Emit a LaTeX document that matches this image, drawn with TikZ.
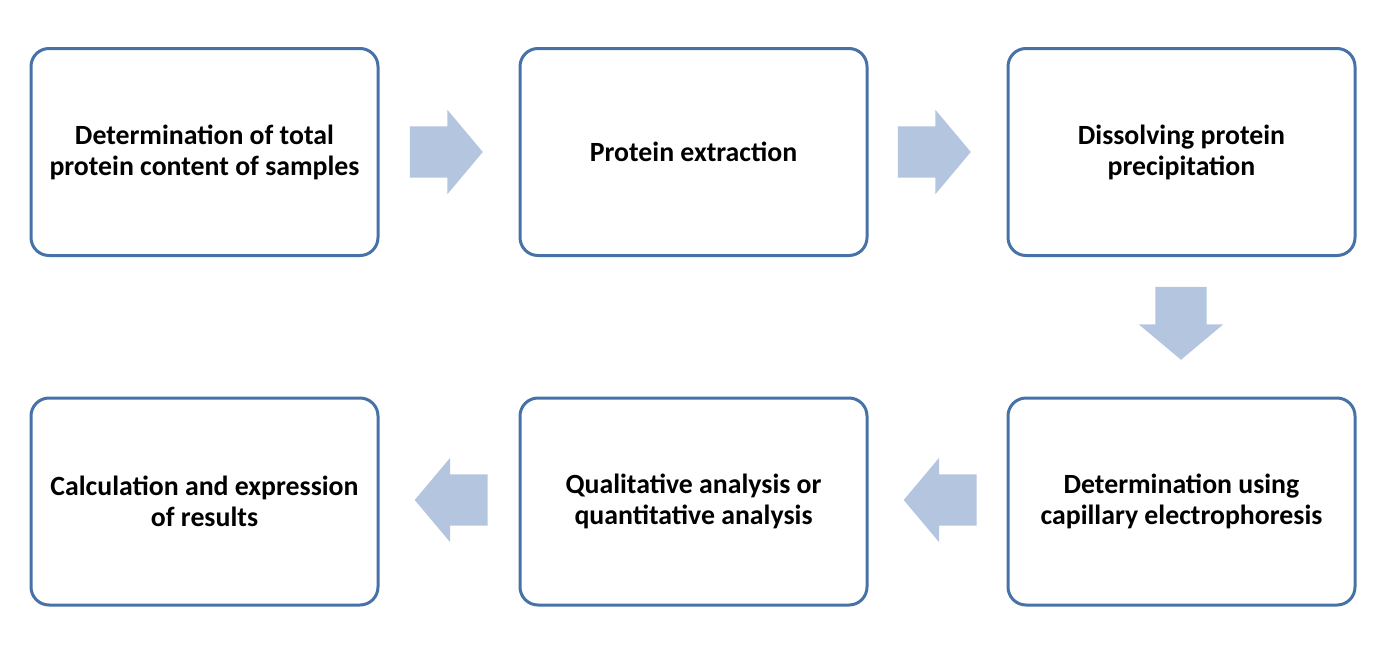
\documentclass[tikz,border=0pt]{standalone}
\usepackage{fontspec}
\setmainfont{Carlito}
\usepackage{tikz}
\usetikzlibrary{shapes.arrows}
\definecolor{boxblue}{RGB}{71,114,167}
\definecolor{arrowblue}{RGB}{180,197,224}
\tikzset{
  stepbox/.style={ draw=boxblue, line width=3pt, rounded corners=18pt, fill=white,
    minimum width=347pt, minimum height=207pt, align=center,
    font=\fontsize{27.8}{31}\selectfont\bfseries }
}
\tikzset{
  blockarr/.style={ single arrow, fill=arrowblue, draw=none, inner xsep=0pt, inner ysep=25.5pt,
    minimum height=73pt, single arrow head extend=16.5pt,
    single arrow tip angle=100 }
}
\begin{document}
\begin{tikzpicture}[y=-1pt, x=1pt]
      \useasboundingbox (0, 0) rectangle (1387, 645);
      \node[stepbox] (total) at (204.5, 152) {Determination of total\\protein content of samples};
      \node[stepbox] (extract) at (693.5, 152) {Protein extraction};
      \node[stepbox] (dissolve) at (1181.5, 152) {Dissolving protein\\precipitation};

      \node[stepbox] (calc) at (204.5, 501.5) {Calculation and expression\\of results};
      \node[stepbox] (analysis) at (693.5, 501.5) {Qualitative analysis or\\quantitative analysis};
      \node[stepbox] (capillary) at (1181.5, 501.5) {Determination using\\capillary electrophoresis};

      \node[blockarr] (arrA) at (435.5, 152) {};
      \node[blockarr] (arrB) at (923.5, 152) {};
      \node[blockarr, rotate=-90] (arrC) at (1181, 312.5) {};
      \node[blockarr, rotate=180] (arrD) at (951, 500) {};
      \node[blockarr, rotate=180] (arrE) at (462, 500) {};
    \end{tikzpicture}
\end{document}
